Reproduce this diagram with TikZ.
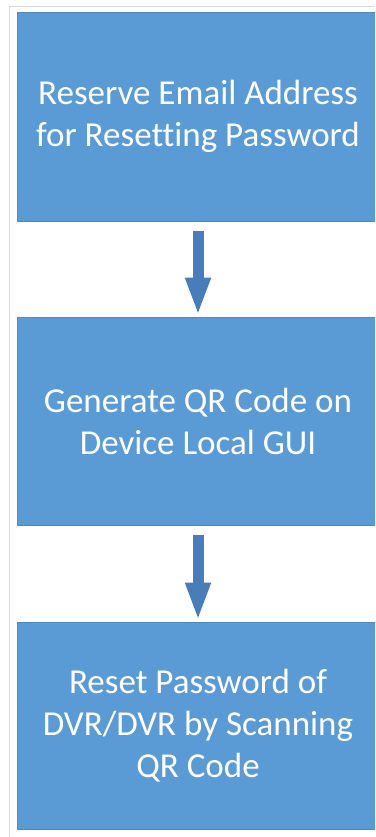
\documentclass[tikz,border=0pt]{standalone}
\usepackage{fontspec}
\setmainfont[Ligatures=NoCommon]{Carlito}
\usetikzlibrary{arrows.meta}
\definecolor{boxblue}{RGB}{91,155,213}
\definecolor{boxedge}{RGB}{80,137,190}
\definecolor{arrowblue}{RGB}{72,125,186}
\definecolor{frame}{RGB}{218,218,218}
\tikzset{
  stepbox/.style={rectangle, fill=boxblue, draw=boxedge, line width=0.6pt,
    minimum width=362pt, inner sep=0pt, text=white, align=center,
    font=\fontsize{35}{42}\selectfont},
  flowarrow/.style={draw=arrowblue, line width=11pt,
    -{Triangle[width=23pt,length=38pt]}, shorten <=10pt, shorten >=1pt}
}
\begin{document}
\begin{tikzpicture}[x=1pt,y=-1pt]
\useasboundingbox (0,0) rectangle (375,837);
\clip (0,0) rectangle (375,837);
\fill[white] (0,0) rectangle (375,837);
\draw[frame, line width=1pt] (9.5,837) -- (9.5,7) -- (375,7);
\node[stepbox, minimum height=209pt] (b1) at (198,116.5)
  {Reserve Email Address\\for Resetting Password};
\node[stepbox, minimum height=208pt] (b2) at (198,421)
  {Generate QR Code on\\Device Local GUI};
\node[stepbox, minimum height=207pt] (b3) at (198,725.5)
  {Reset Password of\\DVR/DVR by Scanning\\QR Code};
\draw[flowarrow] (b1.south) -- (b2.north);
\draw[flowarrow] (b2.south) -- (b3.north);
\end{tikzpicture}
\end{document}
